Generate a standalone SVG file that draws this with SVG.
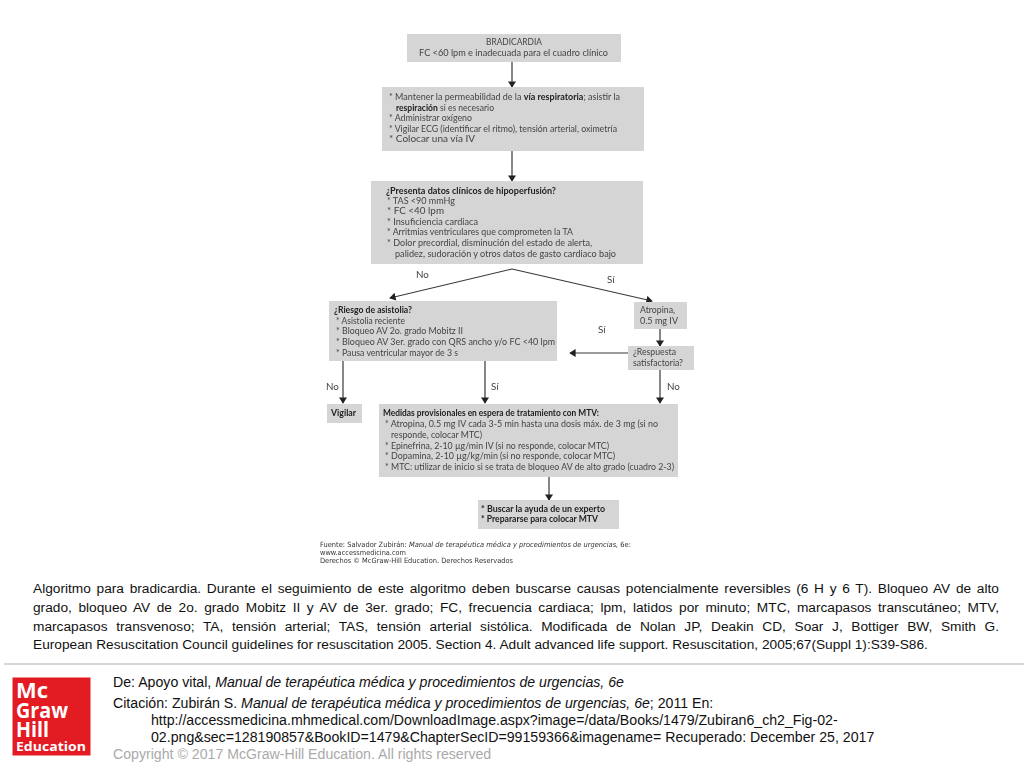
<svg xmlns="http://www.w3.org/2000/svg" width="1024" height="768" viewBox="0 0 1024 768">
<style>
.box{fill:#d5d5d5}
.t{font-family:"Lato","Noto Sans",sans-serif;font-size:9.8px;fill:#444}
.b{font-weight:700;fill:#222}
.c{stroke:#3a3a3a;stroke-width:1.2;fill:none;marker-end:url(#a)}
.p{font-family:"Liberation Sans",Arial,sans-serif;font-size:13.7px;fill:#111}
.q{font-family:"Liberation Sans",Arial,sans-serif;font-size:14.15px;fill:#111}
.f{font-family:"DejaVu Sans",sans-serif;font-size:7.2px;fill:#333}
.w{font-family:"Open Sans",sans-serif;font-weight:700;fill:#fff}
</style>
<defs><marker id="a" viewBox="0 0 8 10" refX="7" refY="5" markerWidth="7" markerHeight="8" markerUnits="userSpaceOnUse" orient="auto"><path d="M0 0L8 5L0 10Z" fill="#222"/></marker>
<filter id="s" x="-5%" y="-5%" width="110%" height="110%"><feGaussianBlur stdDeviation="0.35"/></filter></defs>
<rect width="1024" height="768" fill="#fff"/>
<g id="connectors" filter="url(#s)">
<path class="c" d="M512 62V87"/>
<path class="c" d="M512 151V181"/>
<path class="c" d="M512 269L390 298"/>
<path class="c" d="M512 269L652 301"/>
<path class="c" d="M660 329V346"/>
<path class="c" d="M628 353H570"/>
<path class="c" d="M343 361V403"/>
<path class="c" d="M485 361V403"/>
<path class="c" d="M660 370V403"/>
<path class="c" d="M549 477V500"/>
</g>
<g id="labels" filter="url(#s)">
<text class="t" x="416" y="278">No</text>
<text class="t" x="607" y="283">Sí</text>
<text class="t" x="598" y="333">Sí</text>
<text class="t" x="326" y="390">No</text>
<text class="t" x="491" y="390">Sí</text>
<text class="t" x="667" y="390">No</text>
</g>
<g id="n1" filter="url(#s)"><rect class="box" x="407" y="34" width="214" height="28"/>
<text class="t" x="486" y="45" textLength="56" lengthAdjust="spacingAndGlyphs">BRADICARDIA</text>
<text class="t" x="419" y="56" textLength="189" lengthAdjust="spacingAndGlyphs">FC &lt;60 lpm e inadecuada para el cuadro clínico</text></g>
<g id="n2" filter="url(#s)"><rect class="box" x="382" y="87" width="262" height="64"/>
<text class="t" x="389" y="100" textLength="231" lengthAdjust="spacingAndGlyphs">* Mantener la permeabilidad de la <tspan class="b">vía respiratoria</tspan>; asistir la</text>
<text class="t" x="396" y="111" textLength="98" lengthAdjust="spacingAndGlyphs"><tspan class="b">respiración</tspan> si es necesario</text>
<text class="t" x="389" y="121" textLength="83" lengthAdjust="spacingAndGlyphs">* Administrar oxígeno</text>
<text class="t" x="389" y="132" textLength="228" lengthAdjust="spacingAndGlyphs">* Vigilar ECG (identificar el ritmo), tensión arterial, oximetría</text>
<text class="t" x="389" y="142" textLength="86" lengthAdjust="spacingAndGlyphs">* Colocar una vía IV</text></g>
<g id="n3" filter="url(#s)"><rect class="box" x="371" y="181" width="272" height="83"/>
<text class="t b" x="386" y="194" textLength="170" lengthAdjust="spacingAndGlyphs">¿Presenta datos clínicos de hipoperfusión?</text>
<text class="t" x="387" y="204" textLength="68" lengthAdjust="spacingAndGlyphs">* TAS &lt;90 mmHg</text>
<text class="t" x="387" y="214" textLength="57" lengthAdjust="spacingAndGlyphs">* FC &lt;40 lpm</text>
<text class="t" x="387" y="225" textLength="91" lengthAdjust="spacingAndGlyphs">* Insuficiencia cardiaca</text>
<text class="t" x="387" y="235" textLength="186" lengthAdjust="spacingAndGlyphs">* Arritmias ventriculares que comprometen la TA</text>
<text class="t" x="387" y="246" textLength="205" lengthAdjust="spacingAndGlyphs">* Dolor precordial, disminución del estado de alerta,</text>
<text class="t" x="395" y="257" textLength="221" lengthAdjust="spacingAndGlyphs">palidez, sudoración y otros datos de gasto cardiaco bajo</text></g>
<g id="n4" filter="url(#s)"><rect class="box" x="329" y="301" width="228" height="60"/>
<text class="t b" x="334" y="313" textLength="78" lengthAdjust="spacingAndGlyphs">¿Riesgo de asistolia?</text>
<text class="t" x="336" y="324" textLength="69" lengthAdjust="spacingAndGlyphs">* Asistolia reciente</text>
<text class="t" x="336" y="334" textLength="127" lengthAdjust="spacingAndGlyphs">* Bloqueo AV 2o. grado Mobitz II</text>
<text class="t" x="336" y="345" textLength="219" lengthAdjust="spacingAndGlyphs">* Bloqueo AV 3er. grado con QRS ancho y/o FC &lt;40 lpm</text>
<text class="t" x="336" y="356" textLength="122" lengthAdjust="spacingAndGlyphs">* Pausa ventricular mayor de 3 s</text></g>
<g id="n5" filter="url(#s)"><rect class="box" x="634" y="302" width="53" height="27"/>
<text class="t" x="640" y="313" textLength="35" lengthAdjust="spacingAndGlyphs">Atropina,</text>
<text class="t" x="640" y="324" textLength="38" lengthAdjust="spacingAndGlyphs">0.5 mg IV</text></g>
<g id="n6" filter="url(#s)"><rect class="box" x="628" y="346" width="66" height="24"/>
<text class="t" x="633" y="355" textLength="43" lengthAdjust="spacingAndGlyphs">¿Respuesta</text>
<text class="t" x="633" y="366" textLength="50" lengthAdjust="spacingAndGlyphs">satisfactoria?</text></g>
<g id="n7" filter="url(#s)"><rect class="box" x="327" y="404" width="35" height="19"/>
<text class="t b" x="331" y="416" textLength="25" lengthAdjust="spacingAndGlyphs">Vigilar</text></g>
<g id="n8" filter="url(#s)"><rect class="box" x="379" y="404" width="299" height="73"/>
<text class="t b" x="383" y="416" textLength="216" lengthAdjust="spacingAndGlyphs">Medidas provisionales en espera de tratamiento con MTV:</text>
<text class="t" x="385" y="427" textLength="273" lengthAdjust="spacingAndGlyphs">* Atropina, 0.5 mg IV cada 3-5 min hasta una dosis máx. de 3 mg (si no</text>
<text class="t" x="391" y="438" textLength="91" lengthAdjust="spacingAndGlyphs">responde, colocar MTC)</text>
<text class="t" x="385" y="449" textLength="224" lengthAdjust="spacingAndGlyphs">* Epinefrina, 2-10 µg/min IV (si no responde, colocar MTC)</text>
<text class="t" x="385" y="459" textLength="230" lengthAdjust="spacingAndGlyphs">* Dopamina, 2-10 µg/kg/min (si no responde, colocar MTC)</text>
<text class="t" x="385" y="470" textLength="289" lengthAdjust="spacingAndGlyphs">* MTC: utilizar de inicio si se trata de bloqueo AV de alto grado (cuadro 2-3)</text></g>
<g id="n9" filter="url(#s)"><rect class="box" x="478" y="500" width="141" height="29"/>
<text class="t b" x="481" y="512" textLength="124" lengthAdjust="spacingAndGlyphs">* Buscar la ayuda de un experto</text>
<text class="t b" x="481" y="522" textLength="117" lengthAdjust="spacingAndGlyphs">* Prepararse para colocar MTV</text></g>
<g id="source" filter="url(#s)">
<text class="f" x="320" y="547" textLength="311" lengthAdjust="spacingAndGlyphs">Fuente: Salvador Zubirán: <tspan font-style="italic">Manual de terapéutica médica y procedimientos de urgencias,</tspan> 6e:</text>
<text class="f" x="320" y="555" textLength="86" lengthAdjust="spacingAndGlyphs">www.accessmedicina.com</text>
<text class="f" x="320" y="563" textLength="193" lengthAdjust="spacingAndGlyphs">Derechos © McGraw-Hill Education. Derechos Reservados</text>
</g>
<g id="caption">
<text class="p" x="33" y="593" word-spacing="1.91">Algoritmo para bradicardia. Durante el seguimiento de este algoritmo deben buscarse causas potencialmente reversibles (6 H y 6 T). Bloqueo AV de alto</text>
<text class="p" x="33" y="612" word-spacing="2.78">grado, bloqueo AV de 2o. grado Mobitz II y AV de 3er. grado; FC, frecuencia cardiaca; lpm, latidos por minuto; MTC, marcapasos transcutáneo; MTV,</text>
<text class="p" x="33" y="631" word-spacing="4.85">marcapasos transvenoso; TA, tensión arterial; TAS, tensión arterial sistólica. Modificada de Nolan JP, Deakin CD, Soar J, Bottiger BW, Smith G.</text>
<text class="p" x="33" y="649">European Resuscitation Council guidelines for resuscitation 2005. Section 4. Adult advanced life support. Resuscitation, 2005;67(Suppl 1):S39-S86.</text>
</g>
<path d="M4 664H1024" stroke="#c8c8c8" stroke-width="1.5"/>
<g id="logo"><rect x="12.500" y="677.500" width="78" height="78" fill="#e31b23"/>
<text class="w" x="16" y="698" font-size="21" textLength="32" lengthAdjust="spacingAndGlyphs">Mc</text>
<text class="w" x="16" y="718" font-size="21" textLength="52" lengthAdjust="spacingAndGlyphs">Graw</text>
<text class="w" x="16" y="737" font-size="21" textLength="33" lengthAdjust="spacingAndGlyphs">Hill</text>
<text class="w" x="16" y="751" font-size="13" textLength="70" lengthAdjust="spacingAndGlyphs">Education</text></g>
<g id="citation">
<text class="q" x="113" y="687">De: Apoyo vital, <tspan font-style="italic">Manual de terapéutica médica y procedimientos de urgencias, 6e</tspan></text>
<text class="q" x="113" y="708">Citación: Zubirán S. <tspan font-style="italic">Manual de terapéutica médica y procedimientos de urgencias, 6e</tspan>; 2011 En:</text>
<text class="q" x="151" y="725">http://accessmedicina.mhmedical.com/DownloadImage.aspx?image=/data/Books/1479/Zubiran6_ch2_Fig-02-</text>
<text class="q" x="151" y="742">02.png&amp;sec=128190857&amp;BookID=1479&amp;ChapterSecID=99159366&amp;imagename= Recuperado: December 25, 2017</text>
<text class="q" x="113" y="759" style="fill:#aaa">Copyright © 2017 McGraw-Hill Education. All rights reserved</text>
</g>
</svg>
